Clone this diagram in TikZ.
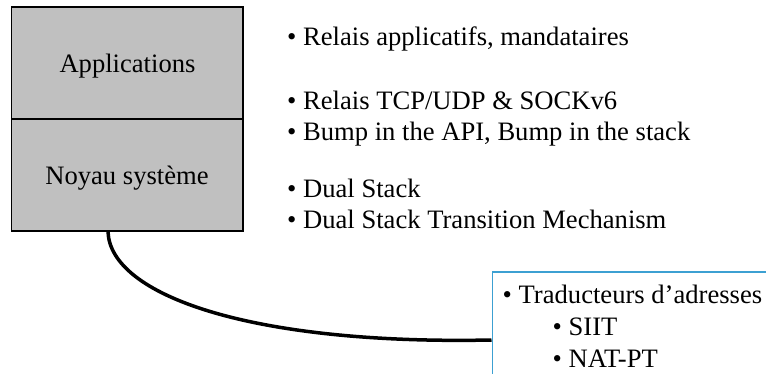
\documentclass[tikz,border=0pt]{standalone}
\usepackage{fontspec}
\setmainfont{Liberation Serif}
\newfontfamily\tmsfont{Liberation Serif}
\definecolor{boxgray}{RGB}{192,192,192}
\definecolor{boxblue}{RGB}{60,160,210}
\begin{document}
\begin{tikzpicture}[x=1pt,y=1pt,
  txt/.style={anchor=base west, inner sep=0pt, font=\tmsfont\fontsize{26.6}{31}\selectfont},
  lbl/.style={anchor=base, inner sep=0pt, font=\tmsfont\fontsize{26.6}{31}\selectfont},
  layer/.style={draw=black, fill=boxgray, line width=1.2pt, minimum width=231.5, minimum height=112, inner sep=0pt},
  bluebox/.style={draw=boxblue, line width=1.5pt, minimum width=300, minimum height=140, inner sep=0pt, anchor=north west},
  link/.style={draw=black, line width=3.5pt}]
\useasboundingbox (0,0) rectangle (766,-374);
\node[layer] (app) at (127.25,-63) {};
\node[layer] (kern) at (127.25,-175) {};
\node[lbl] (appl) at (127.5,-73) {Applications};
\node[lbl] (kernl) at (127,-185) {Noyau système};
\node[txt] (t1) at (287,-46) {\textbullet\ Relais applicatifs, mandataires};
\node[txt] (t2) at (287,-110) {\textbullet\ Relais TCP/UDP \& SOCKv6};
\node[txt] (t3) at (287,-141) {\textbullet\ Bump in the API, Bump in the stack};
\node[txt] (t4) at (287,-198) {\textbullet\ Dual Stack};
\node[txt] (t5) at (287,-229) {\textbullet\ Dual Stack Transition Mechanism};
\node[bluebox] (nat) at (491.5,-271.5) {};
\node[txt] (n1) at (502.5,-303) {\textbullet\ Traducteurs d’adresses};
\node[txt] (n2) at (552.5,-335) {\textbullet\ SIIT};
\node[txt] (n3) at (552.5,-367) {\textbullet\ NAT-PT};
\coordinate (cs) at ([xshift=-19.25pt]kern.south);
\coordinate (ce) at (nat.north west |- 0,-340);
\draw[link] (cs) .. controls (110,-295) and (250,-345) .. (ce);
\end{tikzpicture}
\end{document}
